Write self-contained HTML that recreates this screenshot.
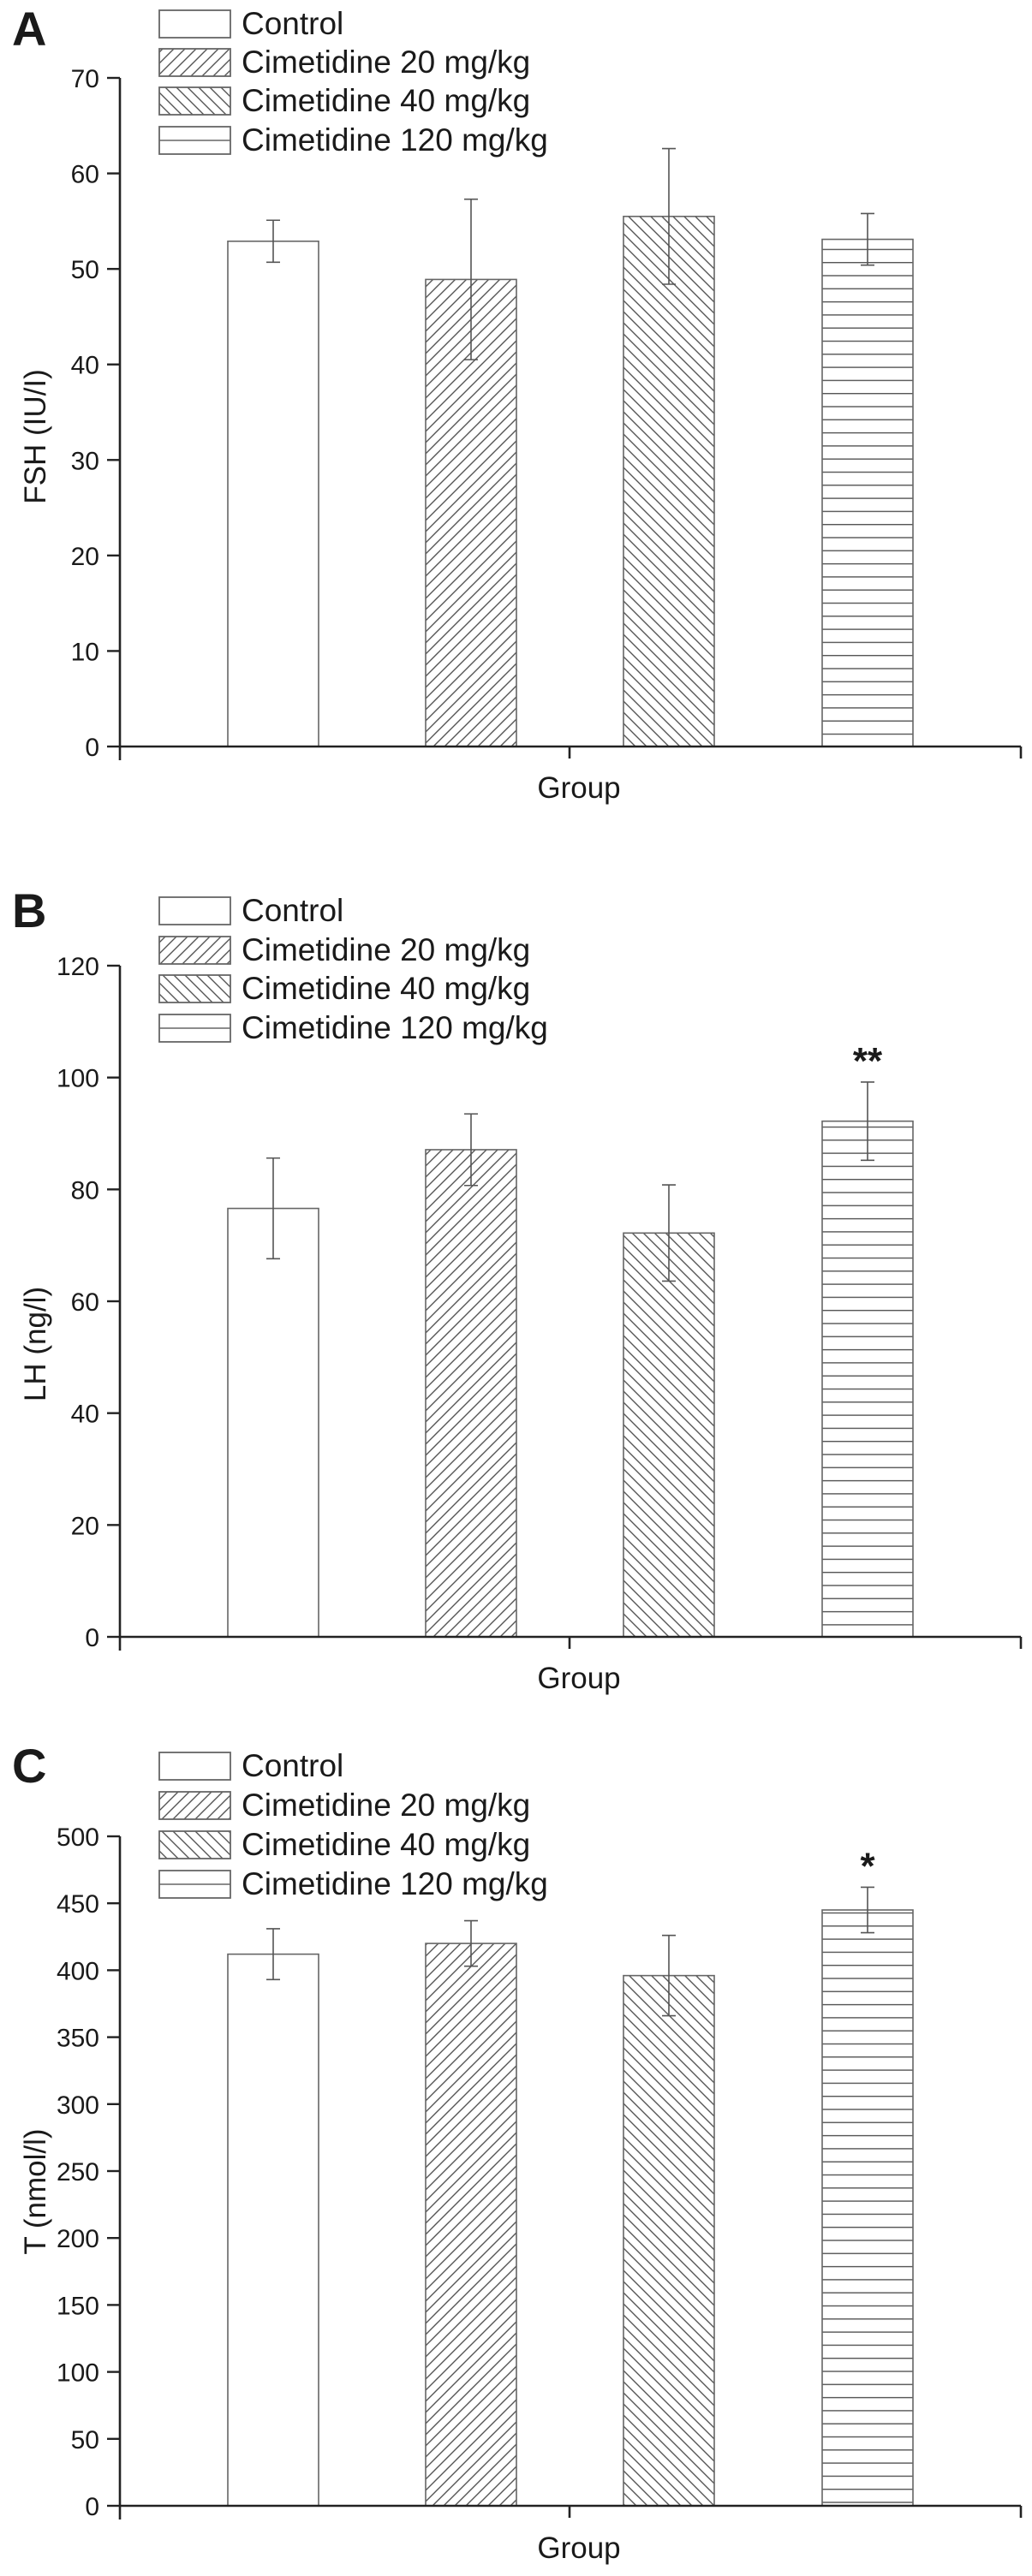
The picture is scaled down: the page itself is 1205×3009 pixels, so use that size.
<!DOCTYPE html>
<html><head><meta charset="utf-8"><style>
html,body{margin:0;padding:0;background:#fff}
svg{display:block}
text{font-family:"Liberation Sans",Arial,sans-serif;fill:#1a1a1a}
</style></head><body>
<svg id="fig" width="1205" height="3009" viewBox="0 0 1205 3009" xmlns="http://www.w3.org/2000/svg">
<defs>
<pattern id="hatchF" patternUnits="userSpaceOnUse" width="13" height="13">
<path d="M0,13 L13,0 M-2,2 L2,-2 M11,15 L15,11" stroke="#555" stroke-width="1.4"/>
</pattern>
<pattern id="hatchB" patternUnits="userSpaceOnUse" width="13" height="13">
<path d="M0,0 L13,13 M-2,11 L2,15 M11,-2 L15,2" stroke="#555" stroke-width="1.4"/>
</pattern>
<pattern id="hatchH" patternUnits="userSpaceOnUse" width="10" height="15.3">
<path d="M0,0.7 L10,0.7" stroke="#555" stroke-width="1.4"/>
</pattern>
</defs>
</svg>
<script>
const categories = ["Control","Cimetidine 20 mg/kg","Cimetidine 40 mg/kg","Cimetidine 120 mg/kg"];
const fshValues = [52.9, 48.9, 55.5, 53.1];
const fshErrors = [2.2, 8.4, 7.1, 2.7];
const fshTicks = [0,10,20,30,40,50,60,70];
const lhValues = [76.6, 87.1, 72.2, 92.2];
const lhErrors = [9.0, 6.4, 8.6, 7.0];
const lhTicks = [0,20,40,60,80,100,120];
const tValues = [412, 420, 396, 445];
const tErrors = [19, 17, 30, 17];
const tTicks = [0,50,100,150,200,250,300,350,400,450,500];
const lhMarks = ["","","","**"];
const tMarks = ["","","","*"];

const NS = "http://www.w3.org/2000/svg";
const svg = document.getElementById('fig');
const fills = ["#fff","url(#hatchF)","url(#hatchB)","url(#hatchH)"];
function mk(tag, attrs, parent){
  const e = document.createElementNS(NS, tag);
  for (const k in attrs) e.setAttribute(k, attrs[k]);
  (parent||svg).appendChild(e);
  return e;
}
const panels = [
  {letter:"A", title:"FSH (IU/I)", values:fshValues, errors:fshErrors, ticks:fshTicks, marks:null,
   yZero:872, yTop:91, legendTop:[12,57,102,148], letterY:53, titleY:510, groupY:932, name:"fsh"},
  {letter:"B", title:"LH (ng/l)", values:lhValues, errors:lhErrors, ticks:lhTicks, marks:lhMarks,
   yZero:1912, yTop:1128, legendTop:[1048,1094,1139,1185], letterY:1083, titleY:1570, groupY:1972, name:"lh"},
  {letter:"C", title:"T (nmol/l)", values:tValues, errors:tErrors, ticks:tTicks, marks:tMarks,
   yZero:2927, yTop:2145, legendTop:[2047,2093,2139,2185], letterY:2082, titleY:2560, groupY:2988, name:"t"}
];
const x0 = 140, x1 = 1192, barW = 106;
const barLeft = [266, 497, 728, 960];
panels.forEach(p => {
  const g = mk('g', {});
  
  
  const maxT = p.ticks[p.ticks.length-1];
  const y = v => p.yZero - (v / maxT) * (p.yZero - p.yTop);
  const L = mk('text', {x:14, y:p.letterY, 'font-size':56, 'font-weight':'bold'}, g);
  L.textContent = p.letter;
  
  
  // bars
  p.values.forEach((v,i) => {
    const r = mk('rect', {x:barLeft[i], y:y(v), width:barW, height:p.yZero - y(v), fill:fills[i], stroke:'#666', 'stroke-width':1.6}, g);
    
    
    const cx = barLeft[i] + barW/2;
    const e = mk('path', {d:`M${cx},${y(v+p.errors[i])} L${cx},${y(v-p.errors[i])} M${cx-8},${y(v+p.errors[i])} L${cx+8},${y(v+p.errors[i])} M${cx-8},${y(v-p.errors[i])} L${cx+8},${y(v-p.errors[i])}`, stroke:'#555', 'stroke-width':1.6, fill:'none'}, g);
    
    
    if (p.marks && p.marks[i]) {
      const s = mk('text', {x:cx, y:y(v+p.errors[i]) - 10, 'font-size':44, 'font-weight':'bold', 'text-anchor':'middle'}, g);
      s.textContent = p.marks[i];
      
      
    }
  });
  // axes
  const ax = mk('path', {d:`M${x0},${p.yTop} L${x0},${p.yZero+16} M${x0},${p.yZero} L${x1},${p.yZero} M665,${p.yZero} L665,${p.yZero+14} M${x1},${p.yZero} L${x1},${p.yZero+14}`, stroke:'#222', 'stroke-width':2.6, fill:'none'}, g);
  
  
  p.ticks.forEach(t => {
    const tk = mk('path', {d:`M${x0-15},${y(t)} L${x0},${y(t)}`, stroke:'#222', 'stroke-width':2.4}, g);
    
    
    const tl = mk('text', {x:116, y:y(t)+11, 'font-size':30, 'text-anchor':'end'}, g);
    tl.textContent = t;
    
    
  });
  const yt = mk('text', {x:0, y:0, 'font-size':35, 'text-anchor':'middle', transform:`translate(53,${p.titleY}) rotate(-90)`}, g);
  yt.textContent = p.title;
  
  
  const xt = mk('text', {x:676, y:p.groupY, 'font-size':35, 'text-anchor':'middle'}, g);
  xt.textContent = 'Group';
  
  
  // legend
  categories.forEach((c,i) => {
    const top = p.legendTop[i];
    const lg = mk('g', {}, g);
    
    
    mk('rect', {x:186, y:top, width:83, height:32, fill:i===3?'#fff':fills[i], stroke:'#666', 'stroke-width':1.8}, lg);
    if (i===3) mk('path', {d:`M186,${top+16} L269,${top+16}`, stroke:'#666', 'stroke-width':1.6}, lg);
    const lt = mk('text', {x:282, y:top+28, 'font-size':37}, lg);
    lt.textContent = c;
  });
});
</script>
</body></html>
